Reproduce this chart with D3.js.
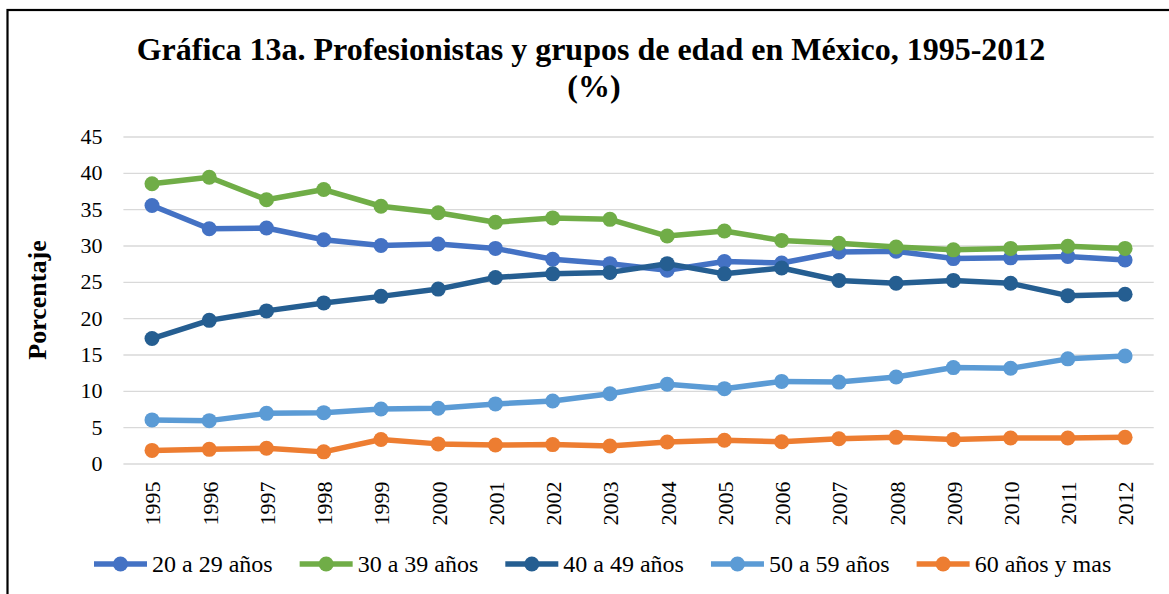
<!DOCTYPE html>
<html>
<head>
<meta charset="utf-8">
<script src="https://cdn.jsdelivr.net/npm/d3@7"></script>
<style>
  body { margin: 0; background: #fff; }
  svg { display: block; }
</style>
</head>
<body>
<div id="chart"></div>
<script>
var years = ['1995','1996','1997','1998','1999','2000','2001','2002','2003','2004','2005','2006','2007','2008','2009','2010','2011','2012'];
var seriesNames = ['20 a 29 años', '30 a 39 años', '40 a 49 años', '50 a 59 años', '60 años y mas'];
var colors = ['#4472C4', '#70AD47', '#255E91', '#5B9BD5', '#ED7D31'];

var edad20 = [35.5, 32.3, 32.4, 30.8, 30.0, 30.2, 29.6, 28.1, 27.5, 26.6, 27.8, 27.6, 29.1, 29.2, 28.2, 28.3, 28.5, 28.0];
var edad30 = [38.5, 39.4, 36.3, 37.7, 35.4, 34.5, 33.2, 33.8, 33.6, 31.3, 32.0, 30.7, 30.3, 29.8, 29.4, 29.6, 29.9, 29.6];
var edad40 = [17.2, 19.7, 21.0, 22.1, 23.0, 24.0, 25.6, 26.1, 26.3, 27.5, 26.1, 26.9, 25.2, 24.8, 25.2, 24.8, 23.1, 23.3];
var edad50 = [6.0, 5.9, 6.9, 7.0, 7.5, 7.6, 8.2, 8.6, 9.6, 10.9, 10.3, 11.3, 11.2, 11.9, 13.2, 13.1, 14.4, 14.8];
var edad60 = [1.8, 1.95, 2.1, 1.6, 3.3, 2.7, 2.55, 2.6, 2.4, 2.95, 3.2, 3.0, 3.4, 3.6, 3.3, 3.5, 3.5, 3.6];
var yTicks = [0, 5, 10, 15, 20, 25, 30, 35, 40, 45];

var allSeries = [edad20, edad30, edad40, edad50, edad60];

var W = 1169, H = 594;
var serif = '"Liberation Serif", "Times New Roman", serif';

var svg = d3.select('#chart').append('svg')
    .attr('width', W)
    .attr('height', H);

svg.append('rect').attr('width', W).attr('height', H).attr('fill', '#fff');

// chart frame (right and bottom edges fall outside the picture)
svg.append('rect')
    .attr('x', 7.5).attr('y', 10)
    .attr('width', W + 20).attr('height', H + 20)
    .attr('fill', 'none')
    .attr('stroke', '#000')
    .attr('stroke-width', 2.2);

// title
svg.append('text')
    .attr('x', 591).attr('y', 60)
    .attr('text-anchor', 'middle')
    .attr('font-family', serif)
    .attr('font-weight', 'bold')
    .attr('font-size', '32px')
    .text('Gráfica 13a. Profesionistas y grupos de edad en México, 1995-2012');
svg.append('text')
    .attr('x', 594).attr('y', 97)
    .attr('text-anchor', 'middle')
    .attr('font-family', serif)
    .attr('font-weight', 'bold')
    .attr('font-size', '32px')
    .text('(%)');

var x = d3.scaleBand().domain(years).range([123.4, 1153.7]);
var y = d3.scaleLinear().domain([0, 45]).range([463.5, 136.5]);

// gridlines + y labels
var yAxis = svg.append('g')
    .attr('transform', 'translate(123.4,0)')
    .call(d3.axisLeft(y).tickValues(yTicks).tickSize(-(1153.7 - 123.4)).tickPadding(21));
yAxis.select('.domain').remove();
yAxis.selectAll('.tick line')
    .attr('stroke', '#D9D9D9')
    .attr('stroke-width', 1.3);
yAxis.selectAll('.tick text')
    .attr('font-family', serif)
    .attr('font-size', '22px')
    .attr('fill', '#000');

// x labels
var xAxis = svg.append('g')
    .attr('transform', 'translate(0,463.5)')
    .call(d3.axisBottom(x).tickSize(0).tickPadding(0));
xAxis.select('.domain').remove();
xAxis.selectAll('.tick text')
    .attr('font-family', serif)
    .attr('font-size', '22px')
    .attr('fill', '#000')
    .attr('text-anchor', 'end')
    .attr('y', 0)
    .attr('dy', '0.38em')
    .attr('transform', 'translate(0,18) rotate(-90)');

// y axis title
svg.append('text')
    .attr('transform', 'translate(46,300) rotate(-90)')
    .attr('text-anchor', 'middle')
    .attr('font-family', serif)
    .attr('font-weight', 'bold')
    .attr('font-size', '26px')
    .text('Porcentaje');

var line = d3.line()
    .x(function(d, i){ return x(years[i]) + x.bandwidth() / 2; })
    .y(function(d){ return y(d); });

allSeries.forEach(function(vals, si){
    var g = svg.append('g');
    g.append('path')
        .datum(vals)
        .attr('d', line)
        .attr('fill', 'none')
        .attr('stroke', colors[si])
        .attr('stroke-width', 5.5)
        .attr('stroke-linejoin', 'round');
    g.selectAll('circle')
        .data(vals)
        .enter()
        .append('circle')
        .attr('cx', function(d, i){ return x(years[i]) + x.bandwidth() / 2; })
        .attr('cy', function(d){ return y(d); })
        .attr('r', 7.5)
        .attr('fill', colors[si]);
});

// legend
var legend = svg.append('g');
var lx = 94;
seriesNames.forEach(function(name, si){
    var item = legend.append('g').attr('transform', 'translate(' + lx + ',564)');
    item.append('line')
        .attr('x1', 0).attr('x2', 53)
        .attr('stroke', colors[si])
        .attr('stroke-width', 5.5);
    item.append('circle')
        .attr('cx', 26.5).attr('r', 7.5)
        .attr('fill', colors[si]);
    var t = item.append('text')
        .attr('x', 58).attr('y', 8)
        .attr('font-family', serif)
        .attr('font-size', '24px')
        .attr('fill', '#000')
        .text(name);
    lx += 58 + t.node().getComputedTextLength() + 27;
});
</script>
</body>
</html>
